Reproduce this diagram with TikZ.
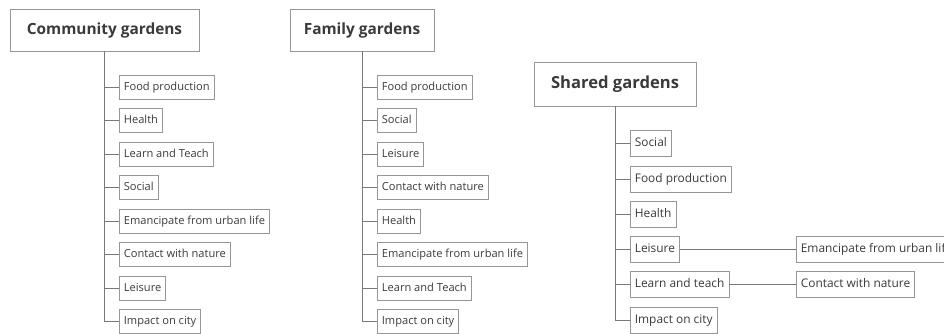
\documentclass[tikz,border=0pt]{standalone}
\usepackage{fontspec}
\setmainfont{Open Sans}
\usetikzlibrary{positioning}
\definecolor{boxline}{RGB}{150,150,150}
\definecolor{linkline}{RGB}{120,120,120}
\definecolor{txt}{RGB}{58,58,58}

\begin{document}
\begin{tikzpicture}[x=1pt,y=-1pt,
  title/.style={draw=boxline,line width=0.7pt,text=txt,font=\bfseries\fontsize{15.4}{18}\selectfont,minimum height=42pt},
  item/.style={draw=boxline,line width=0.7pt,text=txt,anchor=west,font=\fontsize{11.1}{13}\selectfont,inner xsep=4.5pt,minimum height=24pt,text height=8.5pt,text depth=2.5pt},
  bigitem/.style={item,font=\fontsize{11.9}{14}\selectfont,minimum height=26pt},
  link/.style={draw=linkline,line width=0.8pt}]

\useasboundingbox (0,0) rectangle (944,333);
\clip (0,0) rectangle (944,333);

% community gardens
\node[title,minimum width=189pt] (cg) at (104.5,30) {Community gardens};
\node[item] (cg1) at (119,87)    {Food production};
\node[item] (cg2) at (119,120.5) {Health};
\node[item] (cg3) at (119,154)   {Learn and Teach};
\node[item] (cg4) at (119,187.5) {Social};
\node[item] (cg5) at (119,221)   {Emancipate from urban life};
\node[item] (cg6) at (119,254.5) {Contact with nature};
\node[item] (cg7) at (119,288)   {Leisure};
\node[item] (cg8) at (119,321.5) {Impact on city};

\draw[link] (cg.south) -- (cg.south |- cg8.west) -- (cg8.west);
\foreach \n in {1,...,7}
  \draw[link] (cg.south |- cg\n.west) -- (cg\n.west);

% family gardens
\node[title,minimum width=144pt] (fg) at (362,30) {Family gardens};
\node[item] (fg1) at (377,87)    {Food production};
\node[item] (fg2) at (377,120.5) {Social};
\node[item] (fg3) at (377,154)   {Leisure};
\node[item] (fg4) at (377,187.5) {Contact with nature};
\node[item] (fg5) at (377,221)   {Health};
\node[item] (fg6) at (377,254.5) {Emancipate from urban life};
\node[item] (fg7) at (377,288)   {Learn and Teach};
\node[item] (fg8) at (377,321.5) {Impact on city};

\draw[link] (fg.south) -- (fg.south |- fg8.west) -- (fg8.west);
\foreach \n in {1,...,7}
  \draw[link] (fg.south |- fg\n.west) -- (fg\n.west);

% shared gardens
\node[title,minimum width=162pt,minimum height=44pt,font=\bfseries\fontsize{16.6}{19}\selectfont] (sg) at (615,84) {Shared gardens};
\node[bigitem] (sg1) at (630,143.5) {Social};
\node[bigitem] (sg2) at (630,179)   {Food production};
\node[bigitem] (sg3) at (630,214)   {Health};
\node[bigitem] (sg4) at (630,249.5) {Leisure};
\node[bigitem] (sg5) at (630,284)   {Learn and teach};
\node[bigitem] (sg6) at (630,320)   {Impact on city};
\node[bigitem] (sgx1) at (796,249.5) {Emancipate from urban life};
\node[bigitem] (sgx2) at (796,284)   {Contact with nature};

\draw[link] (sg.south) -- (sg.south |- sg6.west) -- (sg6.west);
\foreach \n in {1,...,5}
  \draw[link] (sg.south |- sg\n.west) -- (sg\n.west);
\draw[link] (sg4.east) -- (sgx1.west);
\draw[link] (sg5.east) -- (sgx2.west);

\end{tikzpicture}
\end{document}
